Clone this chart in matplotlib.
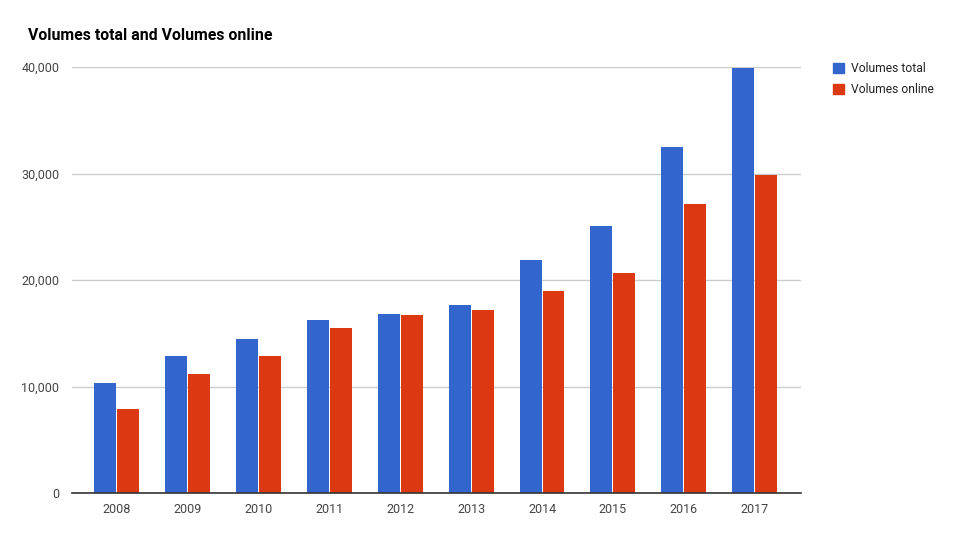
import matplotlib
matplotlib.use('Agg')
import matplotlib.pyplot as plt
from matplotlib.patches import Patch
from matplotlib.ticker import FuncFormatter
import numpy as np

plt.rcParams['font.family'] = ['Roboto', 'DejaVu Sans']

# data
years = ['2008', '2009', '2010', '2011', '2012', '2013', '2014', '2015', '2016', '2017']
volumes_total = [10300, 12900, 14500, 16200, 16800, 17700, 21900, 25100, 32500, 39900]
volumes_online = [7900, 11200, 12900, 15500, 16700, 17200, 19000, 20700, 27100, 29900]

blue = '#3366CC'
red = '#DC3912'

fig = plt.figure(figsize=(9.61, 5.39), dpi=100)
ax = fig.add_axes([0.0749, 0.0853, 0.7586, 0.7904])

x = np.arange(len(years))
w = 0.31
ax.bar(x - w / 2 - 0.007, volumes_total, width=w, color=blue, zorder=3)
ax.bar(x + w / 2 + 0.007, volumes_online, width=w, color=red, zorder=3)

ax.set_xlim(-0.628, len(years) - 1 + 0.652)
ax.set_ylim(0, 40000)
ax.set_yticks([0, 10000, 20000, 30000, 40000])
ax.yaxis.set_major_formatter(FuncFormatter(lambda v, p: f'{int(v):,}'))
ax.set_xticks(x)
ax.set_xticklabels(years)

ax.grid(axis='y', color='#cccccc', linewidth=1, zorder=0)
for s in ['top', 'right', 'left']:
    ax.spines[s].set_visible(False)
ax.spines['bottom'].set_color('#333333')
ax.spines['bottom'].set_linewidth(1.2)
ax.spines['bottom'].set_zorder(4)
ax.tick_params(axis='both', length=0, labelsize=9, labelcolor='#444444')
ax.tick_params(axis='y', pad=9)
ax.tick_params(axis='x', pad=7)

fig.text(28 / 961, 1 - 35 / 539, 'Volumes total and Volumes online',
         fontsize=11.4, fontweight='bold', color='#000000', va='center', ha='left')

handles = [Patch(color=blue, label='Volumes total'), Patch(color=red, label='Volumes online')]
fig.legend(handles=handles, loc='upper left', bbox_to_anchor=(822 / 961, 1 - 51 / 539),
           frameon=False, fontsize=8.7, labelcolor='#222222', handlelength=0.9, handleheight=0.9,
           handletextpad=0.6, labelspacing=0.65)

fig.savefig('out.png', dpi=100)
